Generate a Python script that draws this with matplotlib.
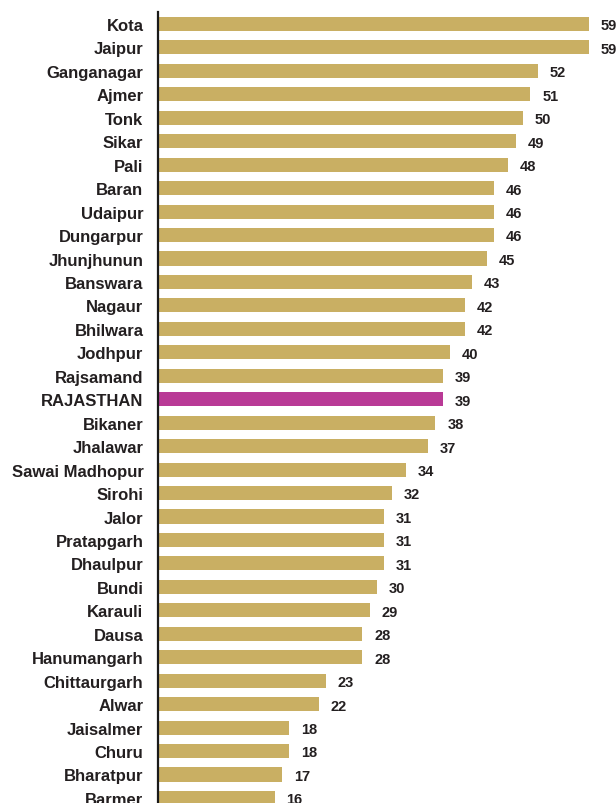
import matplotlib
matplotlib.use("Agg")
import matplotlib.pyplot as plt

districts = ["Kota", "Jaipur", "Ganganagar", "Ajmer", "Tonk", "Sikar", "Pali",
             "Baran", "Udaipur", "Dungarpur", "Jhunjhunun", "Banswara", "Nagaur",
             "Bhilwara", "Jodhpur", "Rajsamand", "RAJASTHAN", "Bikaner", "Jhalawar",
             "Sawai Madhopur", "Sirohi", "Jalor", "Pratapgarh", "Dhaulpur", "Bundi",
             "Karauli", "Dausa", "Hanumangarh", "Chittaurgarh", "Alwar", "Jaisalmer",
             "Churu", "Bharatpur", "Barmer"]
values = [59, 59, 52, 51, 50, 49, 48, 46, 46, 46, 45, 43, 42, 42, 40, 39, 39, 38,
          37, 34, 32, 31, 31, 31, 30, 29, 28, 28, 23, 22, 18, 18, 17, 16]
highlight = "RAJASTHAN"

gold = "#C9AF63"
magenta = "#B93A96"
text_col = "#231F20"

plt.rcParams["font.family"] = ["Liberation Sans", "DejaVu Sans"]

fig = plt.figure(figsize=(6.16, 8.04), dpi=100)
ax = fig.add_axes([158 / 616, -0.0083, 62 * 7.3 / 616, 0.9918])

colors = [magenta if d == highlight else gold for d in districts]
pos = list(range(len(districts)))
ax.barh(pos, values, height=0.6, color=colors)

for y, v in zip(pos, values):
    ax.annotate(str(v), (v, y), xytext=(8.5, -1), textcoords="offset points",
                ha="left", va="center", fontsize=10.5, fontweight="bold", color=text_col)

ax.set_yticks(pos)
ax.set_yticklabels(districts, fontsize=12, fontweight="bold", color=text_col)
ax.tick_params(axis="y", length=0, pad=10.5)
ax.set_xticks([])
ax.set_xlim(0, 62)
ax.set_ylim(len(districts) - 0.5, -0.5)

for s in ["top", "right", "bottom"]:
    ax.spines[s].set_visible(False)
ax.spines["left"].set_linewidth(1.6)
ax.spines["left"].set_color("#1a1a1a")

fig.savefig("out.png", dpi=100)
